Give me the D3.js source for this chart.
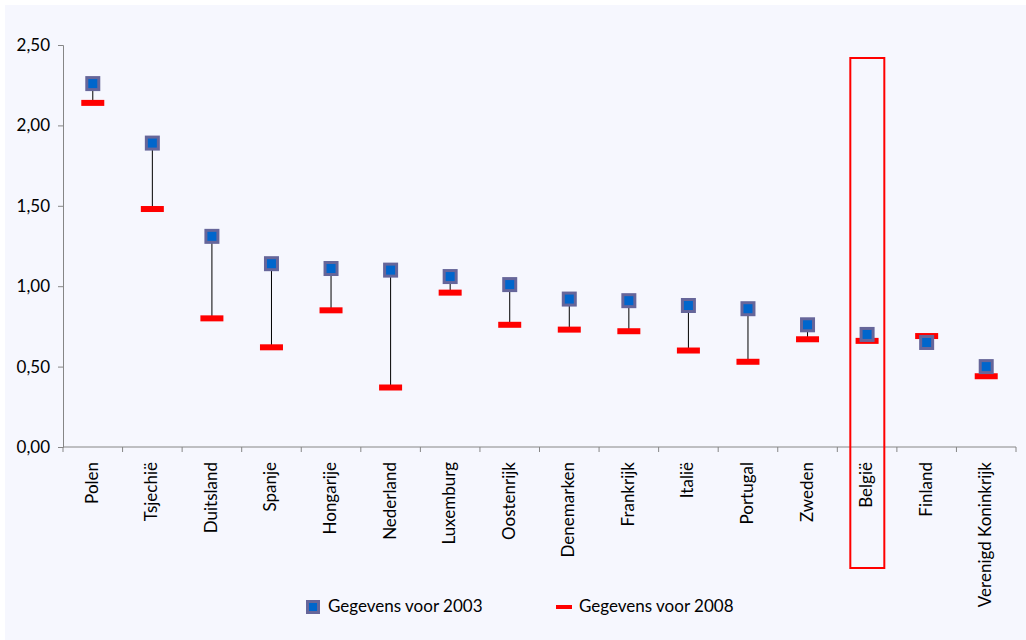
<!DOCTYPE html>
<html><head><meta charset="utf-8">
<script src="https://cdn.jsdelivr.net/npm/d3@7"></script>
<style>html,body{margin:0;padding:0;background:#fff;}svg{display:block;}</style>
</head><body>
<svg id="c" width="1026" height="640"></svg>
<script>
const categories = ["Polen","Tsjechië","Duitsland","Spanje","Hongarije","Nederland","Luxemburg","Oostenrijk","Denemarken","Frankrijk","Italië","Portugal","Zweden","België","Finland","Verenigd Koninkrijk"];
const values2003 = [2.26,1.89,1.31,1.14,1.11,1.10,1.06,1.01,0.92,0.91,0.88,0.86,0.76,0.70,0.65,0.50];
const values2008 = [2.14,1.48,0.80,0.62,0.85,0.37,0.96,0.76,0.73,0.72,0.60,0.53,0.67,0.66,0.69,0.44];
const yTicks = [0,0.5,1,1.5,2,2.5];
const highlighted = "België";
const legendLabels = ["Gegevens voor 2003","Gegevens voor 2008"];

const svg = d3.select("#c");
const font = "Lato, 'Open Sans', sans-serif";
const fs = 17;
svg.append("rect").attr("x",5).attr("y",5).attr("width",1021).attr("height",635).attr("fill","#F6F7FE");

const x = d3.scaleBand().domain(categories).range([63,1016]).padding(0);
const y = d3.scaleLinear().domain([0,2.5]).range([447,45]);
const axisColor = "#868686";

// y axis
const ya = svg.append("g").attr("transform","translate(63,0)")
  .call(d3.axisLeft(y).tickValues(yTicks).tickSize(5).tickPadding(8)
    .tickFormat(d=>d3.format(".2f")(d).replace(".",",")));
ya.select(".domain").attr("stroke",axisColor);
ya.selectAll(".tick line").attr("stroke",axisColor);
ya.selectAll("text").attr("font-family",font).attr("font-size",fs).attr("fill","#000");

// x axis
const xa = svg.append("g").attr("transform","translate(0,447)")
  .call(d3.axisBottom(x).tickSize(0).tickFormat(""));
xa.select(".domain").attr("stroke",axisColor).attr("d","M63,0H1016");
const bounds = categories.map((c,i)=>x(c)).concat([x.range()[1]]);
xa.selectAll(".bt").data(bounds).enter().append("line").attr("class","bt")
  .attr("x1",d=>d).attr("x2",d=>d).attr("y1",0).attr("y2",5).attr("stroke",axisColor);
xa.selectAll(".lbl").data(categories).enter().append("text").attr("class","lbl")
  .attr("transform",d=>`translate(${x(d)+x.bandwidth()/2+5},15) rotate(-90)`)
  .attr("text-anchor","end").attr("font-family",font).attr("font-size",fs).attr("fill","#000")
  .text(d=>d);

// high-low lines
const g = svg.append("g");
g.selectAll(".hl").data(categories).enter().append("line")
  .attr("x1",(d)=>x(d)+x.bandwidth()/2).attr("x2",(d)=>x(d)+x.bandwidth()/2)
  .attr("y1",(d,i)=>y(values2003[i])).attr("y2",(d,i)=>y(values2008[i]))
  .attr("stroke","#000").attr("stroke-width",1);

// 2008 red bars
g.selectAll(".r").data(categories).enter().append("rect")
  .attr("x",d=>x(d)+x.bandwidth()/2-11.5).attr("y",(d,i)=>y(values2008[i])-3)
  .attr("width",23).attr("height",6).attr("fill","#FF0000");

// 2003 squares
g.selectAll(".s").data(categories).enter().append("rect")
  .attr("x",d=>x(d)+x.bandwidth()/2-6).attr("y",(d,i)=>y(values2003[i])-6)
  .attr("width",12).attr("height",12).attr("fill","#0066CC").attr("stroke","#66669A").attr("stroke-width",3);

// highlight box
svg.append("rect").attr("x",x(highlighted)+13).attr("y",58).attr("width",34).attr("height",510)
  .attr("fill","none").attr("stroke","#FF0000").attr("stroke-width",2);

// legend
const lg = svg.append("g");
lg.append("rect").attr("x",307.5).attr("y",601.5).attr("width",11).attr("height",11)
  .attr("fill","#0066CC").attr("stroke","#66669A").attr("stroke-width",3);
lg.append("text").attr("x",328).attr("y",612).attr("font-family",font).attr("font-size",fs).attr("fill","#000").text(legendLabels[0]);
lg.append("rect").attr("x",556).attr("y",605).attr("width",16).attr("height",4).attr("fill","#FF0000");
lg.append("text").attr("x",579).attr("y",612).attr("font-family",font).attr("font-size",fs).attr("fill","#000").text(legendLabels[1]);
</script>
</body></html>
